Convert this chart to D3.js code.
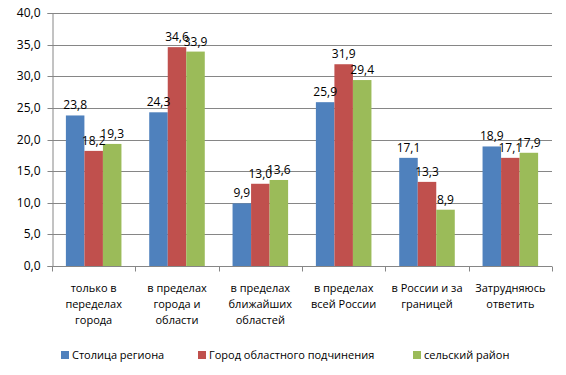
<!DOCTYPE html>
<html>
<head>
<meta charset="utf-8">
<script src="https://cdn.jsdelivr.net/npm/d3@7"></script>
<style>
  body { margin: 0; background: #fff; }
  svg text { font-family: "Open Sans", "Liberation Sans", sans-serif; font-size: 11px; fill: #000; }
</style>
</head>
<body>
<div id="chart"></div>
<script>
const categories = [
    ["только в", "переделах", "города"],
    ["в пределах", "города и", "области"],
    ["в пределах", "ближайших", "областей"],
    ["в пределах", "всей России"],
    ["в России и за", "границей"],
    ["Затрудняюсь", "ответить"]
];
const seriesNames = ["Столица региона", "Город областного подчинения", "сельский район"];
const capital = [23.8, 24.3, 9.9, 25.9, 17.1, 18.9];
const regionalCity = [18.2, 34.6, 13.0, 31.9, 13.3, 17.1];
const rural = [19.3, 33.9, 13.6, 29.4, 8.9, 17.9];
const yTicks = [0, 5, 10, 15, 20, 25, 30, 35, 40];
const colors = ["#4F81BD", "#C0504D", "#9BBB59"];

const width = 566, height = 375;
const margin = { left: 52, right: 14, top: 13, bottom: 109 };

const svg = d3.select("#chart").append("svg")
    .attr("width", width)
    .attr("height", height);

const series = [capital, regionalCity, rural];
const idx = d3.range(categories.length);

const x = d3.scaleBand()
    .domain(idx)
    .range([margin.left, width - margin.right]);

const bw = x.bandwidth() / 4.5; // excel gap width 150%

const xs = d3.scaleBand()
    .domain(d3.range(series.length))
    .range([0, bw * 3]);

const y = d3.scaleLinear()
    .domain([0, 40])
    .range([height - margin.bottom, margin.top]);

// gridlines
svg.append("g")
    .selectAll("line")
    .data(yTicks.slice(1))
    .join("line")
    .attr("x1", margin.left)
    .attr("x2", width - margin.right)
    .attr("y1", d => Math.round(y(d)) + 0.5)
    .attr("y2", d => Math.round(y(d)) + 0.5)
    .attr("stroke", "#868686");

// y axis
const yAxis = svg.append("g")
    .attr("transform", "translate(" + (margin.left + 0.5) + ",0)")
    .call(d3.axisLeft(y).tickValues(yTicks).tickSize(5).tickPadding(7)
        .tickFormat(d => d3.format(".1f")(d).replace(".", ",")));
yAxis.select(".domain").attr("stroke", "#868686");
yAxis.selectAll(".tick line").attr("stroke", "#868686");
yAxis.selectAll("text").style("font-size", "12px");
yAxis.selectAll(".tick").attr("transform", d => "translate(0," + (Math.round(y(d)) + 0.5) + ")");

// x axis baseline and tick marks
const base = Math.round(y(0)) + 0.5;
svg.append("line")
    .attr("x1", margin.left).attr("x2", width - margin.right)
    .attr("y1", base).attr("y2", base)
    .attr("stroke", "#868686");
svg.append("g")
    .selectAll("line")
    .data(d3.range(categories.length + 1))
    .join("line")
    .attr("x1", i => Math.round(margin.left + i * x.step()) + 0.5)
    .attr("x2", i => Math.round(margin.left + i * x.step()) + 0.5)
    .attr("y1", base)
    .attr("y2", base + 5)
    .attr("stroke", "#868686");

// bars
const groups = svg.append("g")
    .selectAll("g")
    .data(idx)
    .join("g")
    .attr("transform", i => "translate(" + (x(i) + (x.bandwidth() - bw * 3) / 2) + ",0)");

groups.selectAll("rect")
    .data(i => series.map((s, k) => ({ k: k, v: s[i] })))
    .join("rect")
    .attr("x", d => xs(d.k))
    .attr("y", d => y(d.v))
    .attr("width", xs.bandwidth())
    .attr("height", d => y(0) - y(d.v))
    .attr("fill", d => colors[d.k]);

groups.selectAll("text.val")
    .data(i => series.map((s, k) => ({ k: k, v: s[i] })))
    .join("text")
    .attr("class", "val")
    .attr("x", d => xs(d.k) + xs.bandwidth() / 2)
    .attr("y", d => y(d.v) - 6)
    .attr("text-anchor", "middle")
    .style("font-size", "12px")
    .text(d => d3.format(".1f")(d.v).replace(".", ","));

// category labels
const catLabels = svg.append("g")
    .selectAll("text")
    .data(idx)
    .join("text")
    .attr("text-anchor", "middle")
    .attr("x", i => x(i) + x.bandwidth() / 2)
    .attr("y", 292);
catLabels.selectAll("tspan")
    .data(i => categories[i])
    .join("tspan")
    .attr("x", function () { return d3.select(this.parentNode).attr("x"); })
    .attr("dy", (d, j) => j === 0 ? 0 : 16)
    .text(d => d);

// legend
const legendX = [61, 198, 413];
const legend = svg.append("g")
    .selectAll("g")
    .data(seriesNames)
    .join("g")
    .attr("transform", (d, i) => "translate(" + legendX[i] + ",351)");
legend.append("rect")
    .attr("width", 8).attr("height", 8)
    .attr("fill", (d, i) => colors[i]);
legend.append("text")
    .attr("x", 11).attr("y", 8)
    .text(d => d);
</script>
</body>
</html>
